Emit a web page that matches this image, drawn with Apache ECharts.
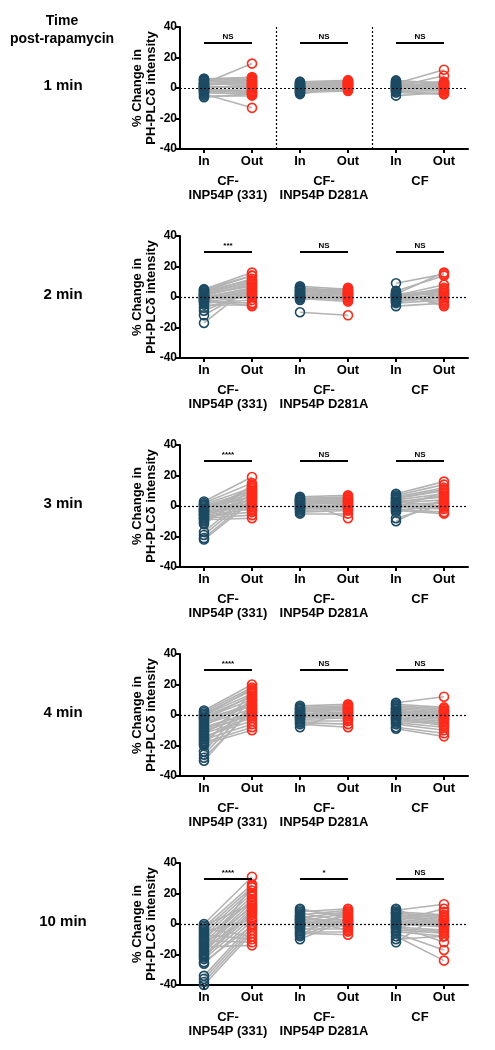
<!DOCTYPE html>
<html>
<head>
<meta charset="utf-8">
<script src="https://cdn.jsdelivr.net/npm/echarts@6/dist/echarts.min.js"></script>
<style>
html,body{margin:0;padding:0;background:#fff;}
#c{width:495px;height:1050px;}
</style>
</head>
<body>
<div id="c"></div>
<script>
// ---------- labels ----------
const pointLabels = ['In', 'Out', 'In', 'Out', 'In', 'Out'];
const groupNames = ['CF-\nINP54P (331)', 'CF-\nINP54P D281A', 'CF'];
const timeLabels = ['1 min', '2 min', '3 min', '4 min', '10 min'];
const sigLabels = [
  ['NS', 'NS', 'NS'],
  ['***', 'NS', 'NS'],
  ['****', 'NS', 'NS'],
  ['****', 'NS', 'NS'],
  ['****', '*', 'NS']
];
const yMin = -40, yMax = 40, yStep = 20;
const sigLevel = 29.5;

// ---------- data: 1 min ----------
const m1g1In  = [3, 6, 5, 3, 2, 1, 0, -1, -2, -3, -4, -5, -6, 2, 1, 0, -1, 3, -2, 4, 0, 1, -3, 5, -1, 6];
const m1g1Out = [16, 7, 6, 4, 3, 1, 2, -2, -3, -4, -13, -5, -4, 5, 0, 1, -1, 3, -2, 5, 2, 0, -4, 7, -3, 5];
const m1g2In  = [4, 3, 2, 1, 0, -1, -2, -3, -4, 3, 1, 0, -1, 2, 4, -2, 0, 1, -3, 2];
const m1g2Out = [5, 4, 3, 2, 1, 0, -1, -2, 1, 4, 3, 2, 0, 5, 4, 1, 2, 3, -1, 3];
const m1g3In  = [3, 1, 5, 4, 2, 0, -1, -2, -3, -5, 1, 2, 3, 0, -1, 4, -2, 0, 1, 2];
const m1g3Out = [12, 8, 3, 4, 2, 1, -1, -2, -4, -3, 0, 3, 1, -1, 2, 0, -4, 3, 4, 2];

// ---------- data: 2 min ----------
const m2g1In  = [5, 4, 3, 2, 1, 0, -1, -2, -3, -4, -17, -12, -9, -7, 5, 3, 1, -1, -2, 0, 2, 4, -3, -5, 1, -1];
const m2g1Out = [16, 14, 12, 10, 8, 6, 4, 2, 0, -2, 8, 6, 4, 2, 14, 10, 9, 3, -6, 5, 7, 11, -4, -5, 1, 0];
const m2g2In  = [7, 6, 5, 4, 3, 2, 1, 0, -1, -2, -10, 5, 3, 1, 0, 2, 4, -1, 6, 1];
const m2g2Out = [5, 4, 3, 2, 1, 0, -1, -2, -3, 1, -12, 3, 5, 2, 6, 0, 2, 4, 3, -1];
const m2g3In  = [9, 2, 1, 0, -1, -2, -3, -4, -6, 3, 2, 1, 0, -1, -2, 4, 1, 0, -3, 2];
const m2g3Out = [15, 16, 8, 6, 4, 2, 0, -2, -4, -6, -5, 3, 5, 1, -1, 14, 2, -3, 0, 4];

// ---------- data: 3 min ----------
const m3g1In  = [3, 2, 1, 0, -1, -2, -3, -4, -5, -6, -7, -8, -9, -10, -12, -17, -19, -21, -22, -4, -6, -2, 0, -8, -11, -3, 1, -5];
const m3g1Out = [19, 15, 12, 10, 8, 6, 4, 2, 0, -2, -4, -6, -8, 14, 11, 9, 7, 5, 3, 1, 13, 10, 6, -1, 8, 12, -3, 4];
const m3g2In  = [6, 5, 4, 3, 2, 1, 0, -1, -2, -3, -4, -5, 3, 1, -1, 2, 4, 0, -2, 5];
const m3g2Out = [7, 6, 5, 4, 3, 2, 1, 0, -1, -2, -3, -5, -8, 3, 1, 4, 2, -1, 0, 5];
const m3g3In  = [8, 7, 6, 5, 4, 3, 2, 1, 0, -1, -2, -3, -4, -8, -10, 2, 0, -1, 1, 3, 5];
const m3g3Out = [16, 14, 12, 10, 8, 6, 4, 2, 0, -2, -4, -5, 3, 1, 5, 7, -1, 9, 2, 0, 11];

// ---------- data: 4 min ----------
const m4g1In  = [3, 2, 1, 0, -1, -2, -4, -5, -6, -8, -10, -12, -14, -16, -18, -19, -20, -24, -26, -28, -30, -3, -7, -11, -15, 0, -2, -9, -13, -17];
const m4g1Out = [20, 18, 16, 14, 12, 10, 8, 6, 4, 2, 0, -2, -4, -6, -8, -10, 15, 11, 7, 3, 5, 13, 9, 1, -1, 17, 6, 2, 10, 4];
const m4g2In  = [6, 5, 4, 3, 2, 1, 0, -1, -2, -3, -4, -5, -6, -8, 2, 0, -2, 4, 1, -1];
const m4g2Out = [7, 6, 5, 4, 3, 2, 1, 0, -1, -2, -4, -6, -8, 3, 5, 1, 2, 4, -3, 6];
const m4g3In  = [8, 7, 6, 5, 4, 3, 2, 1, 0, -1, -2, -3, -4, -5, -6, -8, -9, 2, 0, 4, -2, 1];
const m4g3Out = [12, 5, 4, 3, 2, 1, 0, -1, -2, -3, -4, -5, -6, -8, -10, -12, -14, 2, 1, -3, -7, 3];

// ---------- data: 10 min ----------
const m10g1In  = [0, -2, -4, -6, -8, -10, -12, -14, -16, -18, -20, -21, -23, -26, -34, -36, -38, -40, -3, -7, -11, -15, -19, -9, -13, -17, -5, -1, -25, -22];
const m10g1Out = [31, 26, 24, 22, 20, 18, 16, 14, 12, 10, 8, 6, 4, 2, 0, -2, -4, -6, -8, -10, -12, -14, 25, 15, 11, 7, 3, 13, -1, 9];
const m10g2In  = [10, 9, 8, 7, 6, 5, 4, 3, 2, 1, 0, -1, -2, -3, -4, -5, -6, -7, -8, -10, 3, 1, -2, 5];
const m10g2Out = [4, 6, 10, 2, 9, 0, 8, 3, 7, 1, 5, -1, 6, -3, 2, -5, -7, 8, 4, 3, -4, 2, 1, -2];
const m10g3In  = [10, 9, 8, 7, 6, 5, 4, 3, 2, 1, 0, -1, -2, -3, -4, -5, -6, -8, -10, -12, 2, 0, 7, -2];
const m10g3Out = [-3, 13, 6, 5, 4, 3, 2, 1, 0, -1, -2, -12, -4, -5, -6, -8, -17, -24, -8, 8, 10, 3, -1, 2];

const panels = [
  [[m1g1In, m1g1Out], [m1g2In, m1g2Out], [m1g3In, m1g3Out]],
  [[m2g1In, m2g1Out], [m2g2In, m2g2Out], [m2g3In, m2g3Out]],
  [[m3g1In, m3g1Out], [m3g2In, m3g2Out], [m3g3In, m3g3Out]],
  [[m4g1In, m4g1Out], [m4g2In, m4g2Out], [m4g3In, m4g3Out]],
  [[m10g1In, m10g1Out], [m10g2In, m10g2Out], [m10g3In, m10g3Out]]
];

// ---------- styling ----------
const FONT = 'Liberation Sans, Arial, Helvetica, sans-serif';
const BLUE = '#1c4a63';
const RED = '#ff2a1a';
const GREY = '#b3b3b3';
const panelTop0 = 27, panelStep = 209, panelH = 122;

const grids = [], xAxes = [], yAxes = [], series = [], graphics = [];

graphics.push({
  type: 'text', x: 62, y: 30,
  style: { text: 'Time\npost-rapamycin', textAlign: 'center', textVerticalAlign: 'middle',
           font: 'bold 14px ' + FONT, lineHeight: 18, fill: '#000' }
});

panels.forEach((groups, p) => {
  const top = panelTop0 + p * panelStep;
  grids.push({ left: 180, right: 27, top: top, height: panelH });
  const xi = xAxes.length;
  xAxes.push({
    type: 'value', gridIndex: p, min: 0.5, max: 6.5,
    splitLine: { show: false },
    axisLine: { onZero: false, lineStyle: { color: '#000', width: 2 } },
    axisTick: { customValues: [1, 2, 3, 4, 5, 6], length: 4, lineStyle: { color: '#000', width: 2 } },
    axisLabel: { customValues: [1, 2, 3, 4, 5, 6], formatter: v => pointLabels[Math.round(v) - 1],
                 color: '#000', fontFamily: FONT, fontWeight: 'bold', fontSize: 13, margin: 6 }
  });
  xAxes.push({
    type: 'value', gridIndex: p, min: 0.5, max: 6.5, position: 'bottom',
    splitLine: { show: false }, axisLine: { show: false, onZero: false }, axisTick: { show: false },
    axisLabel: { customValues: [1.5, 3.5, 5.5], formatter: v => groupNames[Math.round(v - 1.5) / 2],
                 color: '#000', fontFamily: FONT, fontWeight: 'bold', fontSize: 13, lineHeight: 14, margin: 25 }
  });
  yAxes.push({
    type: 'value', gridIndex: p, min: yMin, max: yMax, interval: yStep,
    splitLine: { show: false },
    axisLine: { show: true, onZero: false, lineStyle: { color: '#000', width: 2 } },
    axisTick: { show: true, length: 4, lineStyle: { color: '#000', width: 2 } },
    axisLabel: { color: '#000', fontFamily: FONT, fontWeight: 'bold', fontSize: 12, margin: 3 },
    name: '% Change in\nPH-PLC\u03B4 intensity', nameLocation: 'middle', nameGap: 22,
    nameMoveOverlap: false,
    nameTextStyle: { color: '#000', fontFamily: FONT, fontWeight: 'bold', fontSize: 13, lineHeight: 14 }
  });

  graphics.push({
    type: 'text', x: 63, y: top + panelH / 2 - 2,
    style: { text: timeLabels[p], textAlign: 'center', textVerticalAlign: 'middle',
             font: 'bold 15px ' + FONT, fill: '#000' }
  });

  groups.forEach((g, gi) => {
    const xIn = gi * 2 + 1, xOut = gi * 2 + 2;
    const [ins, outs] = g;
    series.push({
      type: 'lines', coordinateSystem: 'cartesian2d', xAxisIndex: xi, yAxisIndex: p,
      silent: true, z: 1,
      lineStyle: { color: GREY, width: 1.6, opacity: 1 },
      data: ins.map((v, i) => ({ coords: [[xIn, v], [xOut, outs[i]]] }))
    });
    series.push({
      type: 'scatter', xAxisIndex: xi, yAxisIndex: p, z: 3, symbol: 'circle', symbolSize: 9,
      itemStyle: { color: 'rgba(255,255,255,0)', borderColor: BLUE, borderWidth: 1.6, opacity: 1 },
      data: ins.map(v => [xIn, v])
    });
    series.push({
      type: 'scatter', xAxisIndex: xi, yAxisIndex: p, z: 3, symbol: 'circle', symbolSize: 9,
      itemStyle: { color: 'rgba(255,255,255,0)', borderColor: RED, borderWidth: 1.6, opacity: 1 },
      data: outs.map(v => [xOut, v]),
      markLine: {
        silent: true, symbol: ['none', 'none'], animation: false,
        lineStyle: { color: '#000', width: 2.2, type: 'solid' },
        label: { show: true, position: 'middle', formatter: sigLabels[p][gi], distance: 2,
                 color: '#000', fontFamily: FONT, fontWeight: 'bold', fontSize: 8 },
        data: [[{ coord: [xIn, sigLevel] }, { coord: [xOut, sigLevel] }]]
      }
    });
  });

  // reference lines (zero line and, in the first panel, group separators)
  const refData = [{ yAxis: 0 }];
  if (p === 0) { refData.push({ xAxis: 2.5 }, { xAxis: 4.5 }); }
  series.push({
    type: 'scatter', xAxisIndex: xi, yAxisIndex: p, data: [], z: 2,
    markLine: {
      silent: true, symbol: ['none', 'none'], animation: false,
      label: { show: false },
      lineStyle: { color: '#000', width: 1.2, type: [2, 2] },
      data: refData
    }
  });
});

const chart = echarts.init(document.getElementById('c'), null, { renderer: 'canvas' });
chart.setOption({
  backgroundColor: '#fff',
  animation: false,
  grid: grids,
  xAxis: xAxes,
  yAxis: yAxes,
  series: series,
  graphic: graphics
});
</script>
</body>
</html>
